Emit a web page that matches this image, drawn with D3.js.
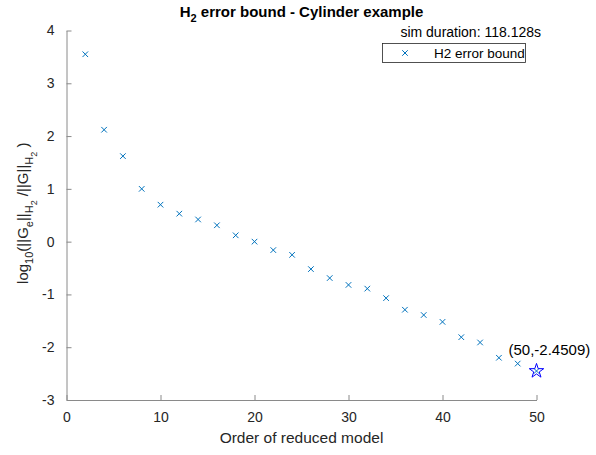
<!DOCTYPE html>
<html>
<head>
<meta charset="utf-8">
<script src="https://cdn.jsdelivr.net/npm/d3@7"></script>
<style>
  body { margin: 0; background: #fff; }
  svg { font-family: "Liberation Sans", Arial, sans-serif; }
</style>
</head>
<body>
<div id="chart"></div>
<script>
// reduced model orders and log10 of the relative H2 error bound
const orders = [2, 4, 6, 8, 10, 12, 14, 16, 18, 20, 22, 24, 26, 28, 30, 32, 34, 36, 38, 40, 42, 44, 46, 48, 50];
const errBound = [3.55, 2.12, 1.62, 1.0, 0.70, 0.53, 0.42, 0.31, 0.12, 0.0, -0.16, -0.25, -0.52, -0.69, -0.82, -0.89, -1.07, -1.29, -1.39, -1.52, -1.81, -1.91, -2.20, -2.31, -2.4509];
const xTicks = [0, 10, 20, 30, 40, 50];
const yTicks = [-3, -2, -1, 0, 1, 2, 3, 4];
const lastPoint = { x: 50, y: -2.4509 };
const simDuration = 'sim duration: 118.128s';

const width = 596, height = 455;
const margin = { top: 30.5, right: 59.5, bottom: 55, left: 66.5 };
const TICK = 5;
const axisColor = '#262626';
const blue = '#0072BD';

const svg = d3.select('#chart').append('svg')
    .attr('width', width)
    .attr('height', height);

const xScale = d3.scaleLinear()
    .domain([0, 50])
    .range([margin.left, width - margin.right]);
const yScale = d3.scaleLinear()
    .domain([-3, 4])
    .range([height - margin.bottom, margin.top]);

// matlab style labels: plain integers, hyphen for minus
const fmt = d => String(d);

// axes, ticks pointing inward like matlab
const xAxis = svg.append('g')
    .attr('transform', `translate(0,${yScale(-3)})`)
    .call(d3.axisBottom(xScale).tickValues(xTicks).tickFormat(fmt).tickSizeInner(-TICK).tickSizeOuter(0).tickPadding(12));
const yAxis = svg.append('g')
    .attr('transform', `translate(${xScale(0)},0)`)
    .call(d3.axisLeft(yScale).tickValues(yTicks).tickFormat(fmt).tickSizeInner(-TICK).tickSizeOuter(0).tickPadding(12));

[xAxis, yAxis].forEach(ax => {
    ax.select('.domain').attr('stroke', '#8a8a8a');
    ax.selectAll('.tick line').attr('stroke', '#8a8a8a');
    ax.selectAll('.tick text')
        .attr('fill', axisColor)
        .style('font-size', '14px')
        .style('font-family', '"Liberation Sans", Arial, sans-serif');
});

// cross markers
const cross = d3.symbol().type(d3.symbolTimes).size(22);
svg.append('g').selectAll('path')
    .data(orders.map((o, i) => ({ x: o, y: errBound[i] })))
    .enter().append('path')
    .attr('d', cross)
    .attr('transform', d => `translate(${xScale(d.x)},${yScale(d.y)})`)
    .attr('fill', 'none')
    .attr('stroke', blue)
    .attr('stroke-width', 1);

// highlighted final order
svg.append('path')
    .attr('d', d3.symbol().type(d3.symbolStar).size(65))
    .attr('transform', `translate(${xScale(lastPoint.x)},${yScale(lastPoint.y)})`)
    .attr('fill', 'none')
    .attr('stroke', '#0000ff')
    .attr('stroke-width', 1);

svg.append('text')
    .attr('x', xScale(lastPoint.x) - 28)
    .attr('y', yScale(lastPoint.y) - 16)
    .attr('fill', '#000')
    .style('font-size', '15px')
    .text(`(${lastPoint.x},${lastPoint.y})`);

// title
const title = svg.append('text')
    .attr('x', (xScale(0) + xScale(50)) / 2)
    .attr('y', 17)
    .attr('text-anchor', 'middle')
    .style('font-size', '15px')
    .style('font-weight', 'bold')
    .attr('fill', '#000');
title.append('tspan').text('H');
title.append('tspan').attr('dy', 5).style('font-size', '11px').text('2');
title.append('tspan').attr('dy', -5).text(' error bound - Cylinder example');

svg.append('text')
    .attr('x', 541)
    .attr('y', 37)
    .attr('text-anchor', 'end')
    .style('font-size', '14px')
    .attr('fill', '#000')
    .text(simDuration);

// legend
const legend = svg.append('g');
legend.append('rect')
    .attr('x', 382.5).attr('y', 43.5)
    .attr('width', 143).attr('height', 19)
    .attr('fill', '#fff')
    .attr('stroke', axisColor)
    .attr('stroke-width', 0.8);
legend.append('path')
    .attr('d', cross)
    .attr('transform', 'translate(405,53)')
    .attr('fill', 'none')
    .attr('stroke', blue);
legend.append('text')
    .attr('x', 434).attr('y', 58)
    .style('font-size', '13.5px')
    .attr('fill', '#000')
    .text('H2 error bound');

// axis labels
svg.append('text')
    .attr('x', (xScale(0) + xScale(50)) / 2)
    .attr('y', 443)
    .attr('text-anchor', 'middle')
    .style('font-size', '15.5px')
    .attr('fill', axisColor)
    .text('Order of reduced model');

const yl = svg.append('text')
    .attr('transform', `translate(28,${(yScale(4) + yScale(-3)) / 2 - 2}) rotate(-90)`)
    .attr('text-anchor', 'middle')
    .style('font-size', '15px')
    .attr('fill', axisColor);
const parts = [
    ['log', 0, 15], ['10', 5, 11], ['(||G', -5, 15], ['e', 5, 11], ['||', -5, 15],
    ['H', 5, 11], ['2', 4, 9], [' /||G||', -9, 15], ['H', 5, 11], ['2', 4, 9], [' )', -9, 15]
];
parts.forEach(([t, dy, fs]) => {
    yl.append('tspan').attr('dy', dy).style('font-size', fs + 'px').text(t);
});
</script>
</body>
</html>
